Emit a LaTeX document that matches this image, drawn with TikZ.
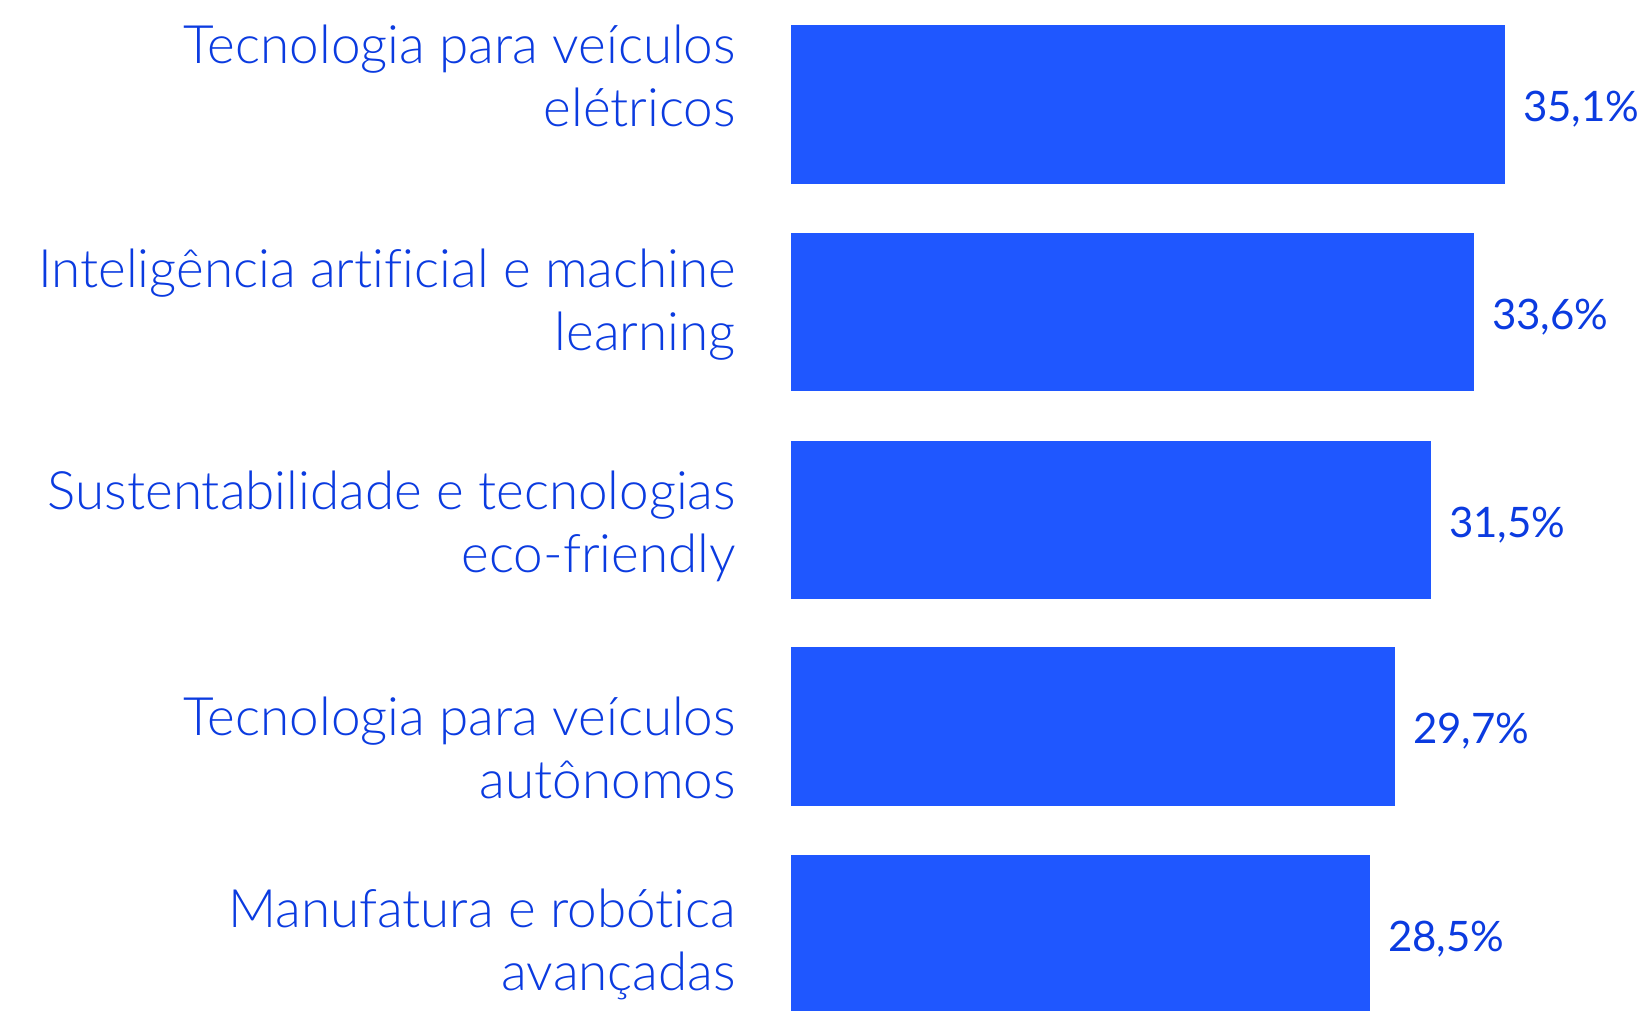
\documentclass[tikz,border=0pt]{standalone}
\usepackage{fontspec}
\newfontfamily\lightf{Lato Light}[Ligatures=NoCommon]
\newfontfamily\regf{Lato}
\definecolor{barblue}{HTML}{1F57FF}
\definecolor{txtblue}{HTML}{0B3BE0}
\newcommand{\twolines}[2]{\vtop{\baselineskip=63.5pt\lineskiplimit=-200pt\halign{\hfil##\cr #1\cr #2\cr}}}
\tikzset{
  lab/.style={font=\lightf\fontsize{53}{64}\selectfont, text=txtblue, inner sep=0pt, anchor=base east},
  val/.style={font=\regf\fontsize{42}{50}\selectfont, text=txtblue, inner sep=0pt, anchor=base west},
  barf/.style={fill=barblue, draw=none}
}
\begin{document}
\begin{tikzpicture}[x=1pt,y=-1pt]
\useasboundingbox (0,0) rectangle (1645,1010);
% bars
\fill[barf] (791,25) rectangle (1505,184);
\fill[barf] (791,233) rectangle (1474,391);
\fill[barf] (791,441) rectangle (1431,599);
\fill[barf] (791,647) rectangle (1395,806);
\fill[barf] (791,855) rectangle (1370,1020);
% labels
\node[lab] (l1) at (736,63) {\twolines{Tecnologia para veículos}{elétricos}};
\node[lab] (l2) at (736,287) {\twolines{Inteligência artificial e machine}{learning}};
\node[lab] (l3) at (736,509) {\twolines{Sustentabilidade e tecnologias}{eco-friendly}};
\node[lab] (l4) at (736,735) {\twolines{Tecnologia para veículos}{autônomos}};
\node[lab] (l5) at (736,927) {\twolines{Manufatura e robótica}{avançadas}};
% values
\node[val] (v1) at (1523,121.5) {35,1\%};
\node[val] (v2) at (1492,329) {33,6\%};
\node[val] (v3) at (1449,537) {31,5\%};
\node[val] (v4) at (1413,743.5) {29,7\%};
\node[val] (v5) at (1388,951) {28,5\%};
\end{tikzpicture}
\end{document}
